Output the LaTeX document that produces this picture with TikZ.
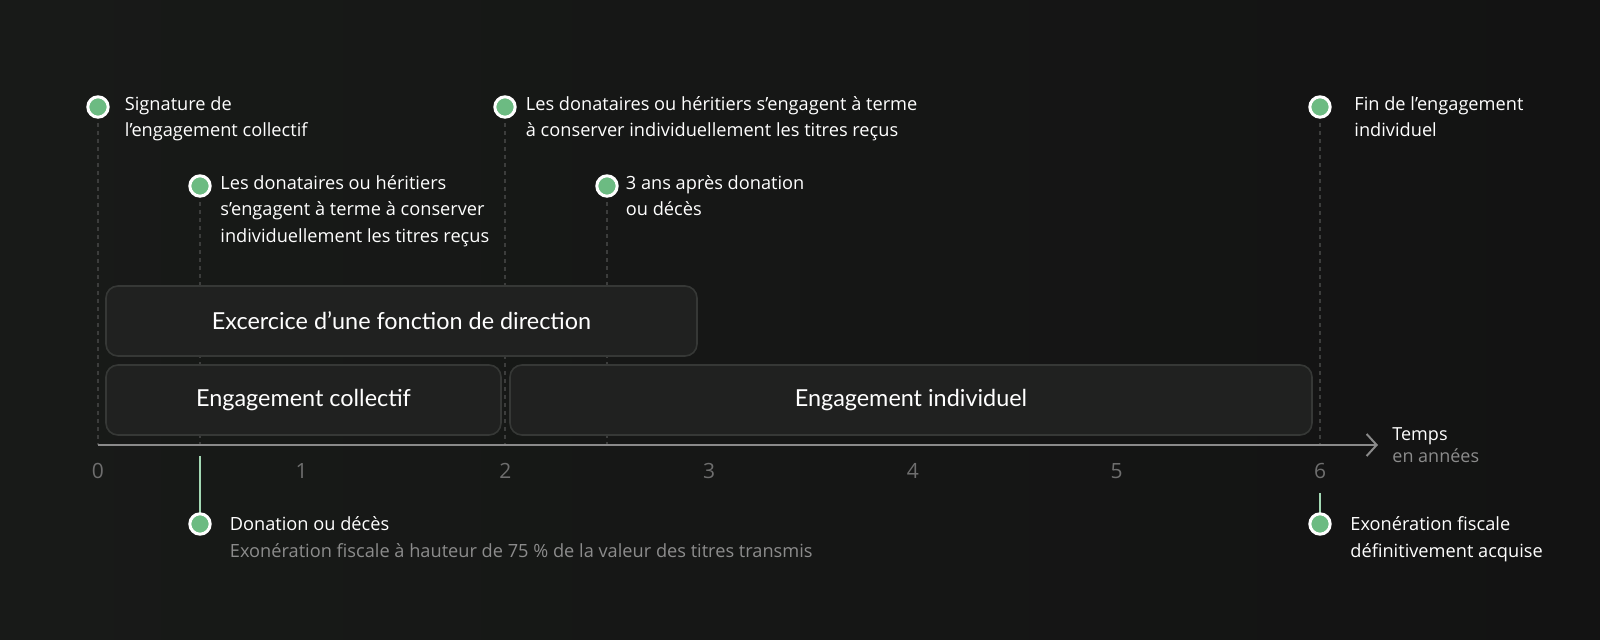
\documentclass[tikz,border=0pt]{standalone}
\usepackage{fontspec}
\setmainfont{Open Sans}
\newfontfamily\barfont{Lato}
\usetikzlibrary{arrows.meta}
\definecolor{bgleft}{HTML}{181A18}
\definecolor{bgright}{HTML}{131313}
\definecolor{barfill}{HTML}{202120}
\definecolor{barline}{HTML}{363836}
\definecolor{mgreen}{HTML}{6CBB82}
\definecolor{lgreen}{HTML}{A2D8B3}
\definecolor{dashgray}{HTML}{3C3D3C}
\definecolor{axisgray}{HTML}{8A8A8A}
\definecolor{tickgray}{HTML}{6E6E6E}
\definecolor{subgray}{HTML}{8C8C8C}

\begin{document}
\begin{tikzpicture}[x=0.5pt,y=-0.5pt,>={Straight Barb[length=5pt,width=11pt,line width=1pt]},
  marker/.style={circle,fill=mgreen,draw=white,line width=1.5pt,minimum size=10.2pt,inner sep=0pt},
  label/.style={anchor=base west,align=left,inner sep=0pt,text=white,font=\fontsize{9.1}{13.25}\selectfont},
  bar/.style={rounded corners=6pt,fill=barfill,draw=barline,line width=0.8pt},
  bar text/.style={text=white,font=\barfont\fontsize{11.7}{13}\selectfont},
  tick/.style={text=tickgray,font=\fontsize{10.5}{12}\selectfont},
  guide/.style={draw=dashgray,line width=0.7pt,dash pattern=on 2pt off 2pt},
  rise/.style={draw=lgreen,line width=1pt}]
  \shade[left color=bgleft,right color=bgright] (0,0) rectangle (1600,640);
  \useasboundingbox (0,0) rectangle (1600,640);

  \coordinate (c1) at (98,107);
  \coordinate (c2) at (200,186);
  \coordinate (c3) at (505,107);
  \coordinate (c4) at (607,186);
  \coordinate (c5) at (1320,107);
  \coordinate (a1) at (98,445);
  \coordinate (a2) at (200,445);
  \coordinate (a3) at (505,445);
  \coordinate (a4) at (607,445);
  \coordinate (a5) at (1320,445);
  \coordinate (end) at (1378,445);
  \coordinate (g1) at (200,456);
  \coordinate (g2) at (1320,493);

  \path[guide] (c1) -- (a1) (c2) -- (a2) (c3) -- (a3) (c4) -- (a4) (c5) -- (a5);

  \draw[bar] (106,286) rectangle (697,356);
  \draw[bar] (106,365) rectangle (501,435);
  \draw[bar] (510,365) rectangle (1312,435);
  \node[bar text] (direction) at (401.5,321) {Excercice d’une fonction de direction};
  \node[bar text] (collectif) at (303.5,400) {Engagement collectif};
  \node[bar text] (individuel) at (911,400) {Engagement individuel};

  \draw[->,draw=axisgray,line width=1pt] (a1) -- (end);
  \foreach \t in {0,...,6}
    \node[tick] (t\t) at (98+\t*203.7,471) {\t};
  \node[label,font=\fontsize{9}{11}\selectfont] (temps) at (1392,463) {Temps\\\textcolor{subgray}{en années}};

  \path[rise] (g1) -- (200,523) (g2) -- (1320,523);

  \node[marker] (m1) at (c1) {};
  \node[marker] (m2) at (c2) {};
  \node[marker] (m3) at (c3) {};
  \node[marker] (m4) at (c4) {};
  \node[marker] (m5) at (c5) {};
  \node[marker] (b1) at (200,524) {};
  \node[marker] (b2) at (1320,524) {};

  \node[label] (l1) at (124.5,137) {Signature de\\l’engagement collectif};
  \node[label] (l2) at (220,242.5) {Les donataires ou héritiers\\s’engagent à terme à conserver\\individuellement les titres reçus};
  \node[label] (l3) at (525.5,137) {Les donataires ou héritiers s’engagent à terme\\à conserver individuellement les titres reçus};
  \node[label] (l4) at (625.5,216) {3 ans après donation\\ou décès};
  \node[label] (l5) at (1354,137) {Fin de l’engagement\\individuel};
  \node[label] (l6) at (229.5,557.5) {Donation ou décès\\\textcolor{subgray}{Exonération fiscale à hauteur de 75 \% de la valeur des titres transmis}};
  \node[label] (l7) at (1350,557.5) {Exonération fiscale\\définitivement acquise};
\end{tikzpicture}
\end{document}
